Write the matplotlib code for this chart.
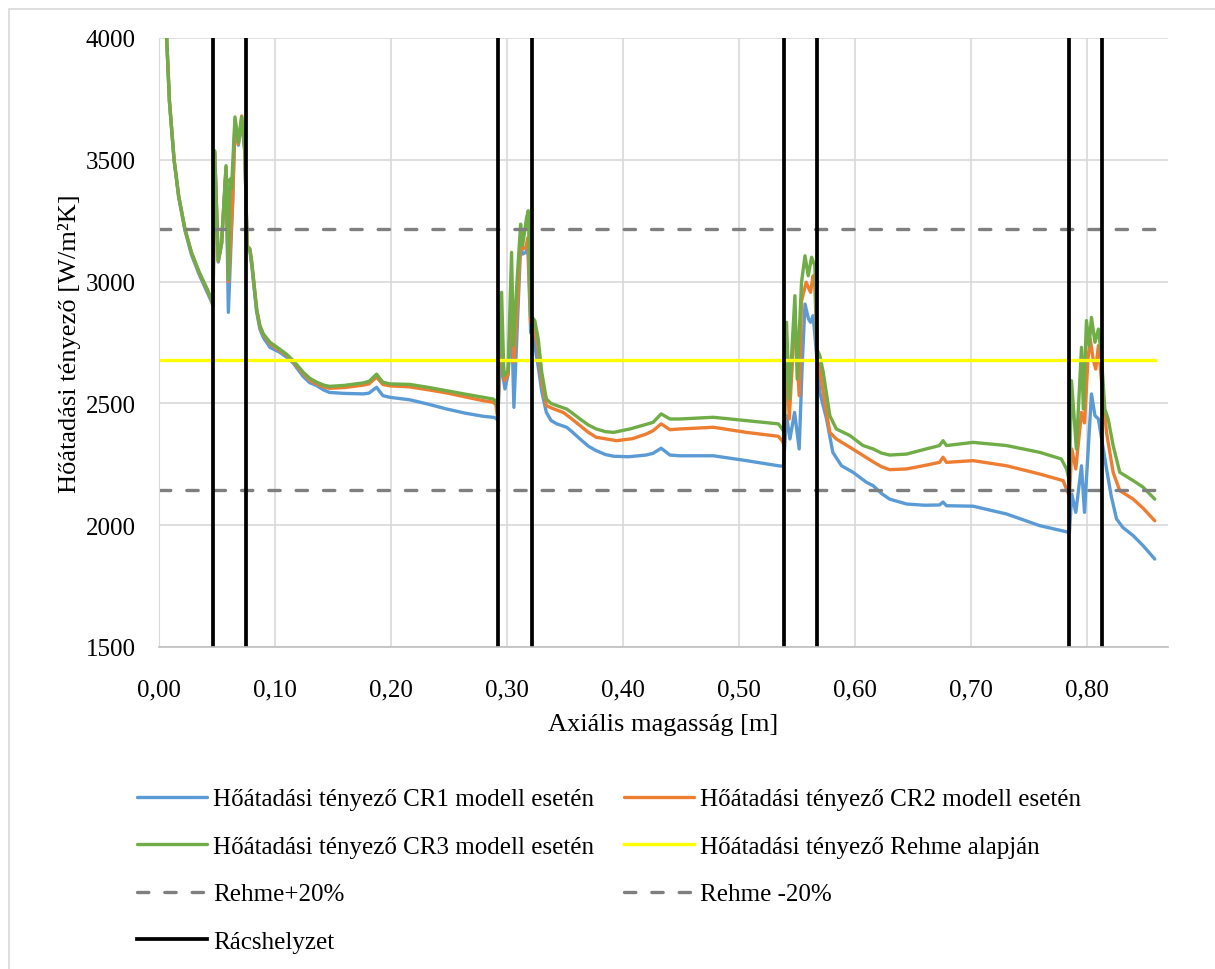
import matplotlib.pyplot as plt
from matplotlib.patches import Rectangle
from matplotlib.ticker import FuncFormatter

plt.rcParams['font.family'] = ['Liberation Serif', 'DejaVu Serif']

# Hőátadási tényező, CR1 modell
x_cr1 = [0.005, 0.0066, 0.009, 0.013, 0.017, 0.0224, 0.028, 0.035, 0.041, 0.0455, 0.0466,
         0.048, 0.0511, 0.054, 0.0578, 0.0598, 0.0635, 0.0655, 0.0684, 0.0713, 0.074, 0.076,
         0.0784, 0.080, 0.0842, 0.087, 0.090, 0.0957, 0.104, 0.110, 0.1158, 0.1244, 0.130,
         0.136, 0.142, 0.147, 0.160, 0.176, 0.181,
         0.1876, 0.193, 0.199, 0.216, 0.232, 0.248, 0.264, 0.2796, 0.288, 0.2905, 0.292,
         0.2945, 0.2983, 0.301, 0.304, 0.306, 0.3098, 0.3118, 0.3135, 0.3164, 0.318, 0.3205,
         0.3227, 0.327, 0.330, 0.334, 0.338, 0.343, 0.3515, 0.357, 0.363, 0.370, 0.377, 0.385,
         0.392, 0.405, 0.420, 0.426, 0.433,
         0.4405, 0.449, 0.478, 0.5066, 0.534, 0.5385,
         0.541, 0.544, 0.548, 0.552, 0.5545, 0.557, 0.560, 0.5618, 0.564, 0.5655, 0.5698,
         0.5756, 0.581, 0.5885, 0.5985, 0.610, 0.6158, 0.623, 0.630, 0.6446, 0.660, 0.673,
         0.676, 0.679, 0.702, 0.7308, 0.7595, 0.7825, 0.785,
         0.787, 0.7905, 0.7954, 0.798, 0.804, 0.807, 0.810, 0.817, 0.821, 0.8256, 0.831,
         0.840, 0.8485, 0.8586]
y_cr1 = [4250, 4000, 3740, 3500, 3345, 3210, 3110, 3025, 2962, 2915, 2900,
         3530, 3080, 3155, 3460, 2874, 3325, 3650, 3560, 3660, 3530, 3140,
         3125, 3065, 2875, 2805, 2770, 2730, 2710, 2690, 2665, 2610, 2585,
         2573, 2555, 2545, 2541, 2539, 2542,
         2566, 2532, 2525, 2515, 2497, 2477, 2460, 2447, 2443, 2440, 2430,
         2680, 2559, 2620, 2850, 2484, 2915, 3150, 3113, 3120, 3150, 2790,
         2778, 2650, 2550, 2463, 2430, 2416, 2402, 2380, 2354, 2325, 2306, 2290,
         2283, 2281, 2288, 2295, 2316,
         2288, 2285, 2285, 2265, 2244, 2242,
         2450, 2354, 2463, 2313, 2650, 2908, 2847, 2833, 2860, 2780, 2545,
         2436, 2299, 2244, 2217, 2176, 2162, 2130, 2107, 2087, 2082, 2083,
         2095, 2080, 2078, 2046, 1998, 1973, 1970,
         2128, 2053, 2244, 2053, 2539, 2450, 2436, 2231, 2121, 2026, 1991,
         1957, 1916, 1861]

# Hőátadási tényező, CR2 modell
x_cr2 = [0.005, 0.0066, 0.009, 0.013, 0.017, 0.0224, 0.028, 0.035, 0.041, 0.0455, 0.0466,
         0.048, 0.0511, 0.054, 0.0578, 0.0598, 0.0635, 0.0655, 0.0684, 0.0713, 0.074, 0.076,
         0.0784, 0.080, 0.0842, 0.087, 0.090, 0.0957, 0.104, 0.110, 0.1158, 0.1244, 0.130,
         0.136, 0.142, 0.147, 0.160, 0.176, 0.181,
         0.1876, 0.193, 0.199, 0.216, 0.232, 0.248, 0.264, 0.2796, 0.288, 0.2905, 0.292,
         0.2945, 0.2983, 0.301, 0.304, 0.306, 0.3098, 0.3118, 0.3135, 0.3164, 0.318, 0.3205,
         0.324, 0.327, 0.330, 0.334, 0.340, 0.3485, 0.355, 0.363, 0.370, 0.377, 0.3946, 0.408,
         0.420, 0.426, 0.433,
         0.4405, 0.449, 0.478, 0.5066, 0.534, 0.5375, 0.539,
         0.5411, 0.5434, 0.5483, 0.552, 0.554, 0.558, 0.5618, 0.564, 0.5655, 0.5675, 0.5698,
         0.5727, 0.5784, 0.584, 0.5957, 0.6158, 0.623, 0.630, 0.6446, 0.660, 0.673, 0.676,
         0.679, 0.702, 0.7308, 0.7595, 0.7796, 0.7825, 0.785,
         0.787, 0.7905, 0.7954, 0.798, 0.801, 0.803, 0.8054, 0.8077, 0.810, 0.8125, 0.817,
         0.8227, 0.8284, 0.840, 0.8485, 0.8586]
y_cr2 = [4250, 4000, 3740, 3500, 3350, 3214, 3118, 3032, 2972, 2922, 2903,
         3535, 3084, 3158, 3470, 3000, 3330, 3660, 3565, 3680, 3540, 3145,
         3132, 3075, 2885, 2815, 2782, 2745, 2718, 2698, 2670, 2622, 2595,
         2580, 2568, 2562, 2565, 2575, 2580,
         2608, 2578, 2572, 2568, 2556, 2543, 2527, 2511, 2505, 2495, 2440,
         2750, 2593, 2620, 2980, 2669, 2970, 3180, 3134, 3141, 3180, 2830,
         2810, 2720, 2590, 2491, 2478, 2463, 2440, 2409, 2382, 2361, 2347, 2355,
         2374, 2388, 2416,
         2392, 2395, 2402, 2381, 2365, 2345, 2330,
         2720, 2436, 2850, 2532, 2920, 2997, 2956, 3024, 2990, 2680, 2640,
         2545, 2381, 2354, 2320, 2260, 2240, 2228, 2231, 2245, 2258, 2279,
         2258, 2265, 2244, 2210, 2183, 2148, 2120,
         2313, 2231, 2463, 2420, 2682, 2764, 2682, 2641, 2737, 2600, 2381,
         2217, 2142, 2107, 2070, 2018]

# Hőátadási tényező, CR3 modell
x_cr3 = [0.005, 0.0066, 0.009, 0.013, 0.017, 0.0224, 0.028, 0.035, 0.041, 0.0455, 0.0466,
         0.048, 0.0511, 0.054, 0.0578, 0.0598, 0.0612, 0.0625, 0.0655, 0.0684, 0.0713, 0.074,
         0.076, 0.0784, 0.080, 0.0842, 0.087, 0.090, 0.0957, 0.104, 0.110, 0.1158, 0.1244,
         0.130, 0.136, 0.142, 0.147, 0.160, 0.176,
         0.181, 0.1876, 0.193, 0.199, 0.216, 0.232, 0.248, 0.264, 0.2796, 0.288, 0.2905, 0.292,
         0.2954, 0.2974, 0.301, 0.304, 0.3055, 0.3083, 0.3118, 0.3135, 0.317, 0.3184, 0.3205,
         0.324, 0.327, 0.330, 0.334, 0.338, 0.343, 0.3515, 0.357, 0.363, 0.370, 0.377, 0.385,
         0.392, 0.406, 0.426, 0.433,
         0.4405, 0.449, 0.478, 0.5066, 0.534, 0.5375, 0.539,
         0.5411, 0.5434, 0.5483, 0.5503, 0.554, 0.557, 0.5598, 0.5627, 0.5655, 0.5675, 0.5698,
         0.5727, 0.5784, 0.584, 0.5957, 0.607, 0.6158, 0.623, 0.630, 0.6446, 0.659, 0.673,
         0.676, 0.679, 0.702, 0.7308, 0.7595, 0.778, 0.7825, 0.785,
         0.7868, 0.791, 0.7954, 0.797, 0.7997, 0.802, 0.804, 0.807, 0.810, 0.8125, 0.8155,
         0.8184, 0.8227, 0.8284, 0.840, 0.8485, 0.8586]
y_cr3 = [4250, 4000, 3740, 3500, 3350, 3216, 3120, 3035, 2975, 2925, 2905,
         3537, 3086, 3161, 3476, 3010, 3421, 3380, 3676, 3572, 3676, 3540,
         3147, 3134, 3080, 2887, 2820, 2785, 2751, 2723, 2702, 2675, 2628,
         2603, 2587, 2575, 2570, 2574, 2584,
         2590, 2620, 2587, 2580, 2578, 2566, 2552, 2538, 2525, 2518, 2510, 2480,
         2956, 2614, 2634, 3120, 2737, 2970, 3236, 3147, 3264, 3291, 2860,
         2840, 2764, 2628, 2518, 2500, 2491, 2477, 2458, 2436, 2412, 2395, 2384,
         2381, 2395, 2422, 2457,
         2436, 2436, 2443, 2429, 2416, 2395, 2380,
         2833, 2518, 2942, 2600, 2997, 3106, 3024, 3100, 3065, 2720, 2696,
         2628, 2450, 2395, 2368, 2327, 2313, 2296, 2288, 2292, 2310, 2327,
         2347, 2327, 2340, 2327, 2299, 2272, 2231, 2180,
         2593, 2313, 2730, 2477, 2840, 2737, 2853, 2751, 2805, 2700, 2477,
         2436, 2327, 2217, 2183, 2156, 2107]

# Rehme-féle hőátadási tényező és a ±20%-os sáv
x_rehme = [0.0, 0.8586]
rehme = 2680
rehme_plus = 3216
rehme_minus = 2144

# rácsok axiális helyzete
racs_x = [0.0466, 0.0750, 0.2920, 0.3216, 0.5390, 0.5670, 0.7850, 0.8130]
y_lim = [1500, 4000]
x_ticks = [0.0, 0.1, 0.2, 0.3, 0.4, 0.5, 0.6, 0.7, 0.8]
y_ticks = [1500, 2000, 2500, 3000, 3500, 4000]

W, H = 1215, 970
fig = plt.figure(figsize=(W / 100, H / 100), dpi=100)
ax = fig.add_axes([159 / W, 1 - 648 / H, (1168 - 159) / W, (648 - 39) / H])

# keret a diagram körül
fig.patches.append(Rectangle((9 / W, -0.05), 1.05, 1 - 10 / H + 0.05, transform=fig.transFigure,
                             fill=False, edgecolor='#D9D9D9', linewidth=1.2))

lw = 2.4
kw = dict(lw=lw, solid_joinstyle='round', solid_capstyle='round')
l1, = ax.plot(x_cr1, y_cr1, color='#5B9BD5', **kw)
l2, = ax.plot(x_cr2, y_cr2, color='#ED7D31', **kw)
l3, = ax.plot(x_cr3, y_cr3, color='#70AD47', **kw)
l4, = ax.plot(x_rehme, [rehme] * 2, color='#FFFF00', lw=lw)
l5, = ax.plot(x_rehme, [rehme_plus] * 2, color='#7F7F7F', lw=lw, dashes=(3.4, 4.8),
              dash_capstyle='round')
l6, = ax.plot(x_rehme, [rehme_minus] * 2, color='#7F7F7F', lw=lw, dashes=(3.4, 4.8),
              dash_capstyle='round')
for xr in racs_x:
    l7, = ax.plot([xr, xr], y_lim, color='black', lw=2.7)

ax.set_xlim(0, 0.87)
ax.set_ylim(*y_lim)
ax.set_xticks(x_ticks)
ax.set_yticks(y_ticks)
ax.xaxis.set_major_formatter(FuncFormatter(lambda v, p: f'{v:.2f}'.replace('.', ',')))
ax.grid(True, color='#D9D9D9', lw=1.2)
ax.set_axisbelow(True)
for s in ['top', 'right']:
    ax.spines[s].set_visible(False)
ax.spines['left'].set_color('#D9D9D9')
ax.spines['bottom'].set_color('#BFBFBF')
ax.spines['bottom'].set_linewidth(1.2)
ax.tick_params(length=0, labelsize=18, colors='black')
ax.tick_params(axis='x', pad=23)
ax.tick_params(axis='y', pad=17)

ax.set_xlabel('Axiális magasság [m]', fontsize=19, labelpad=9)
ax.set_ylabel('Hőátadási tényező [W/m²K]', fontsize=19, labelpad=3)

handles = [l1, l3, l5, l7, l2, l4, l6]
labels = ['Hőátadási tényező CR1 modell esetén', 'Hőátadási tényező CR3 modell esetén',
          'Rehme+20%', 'Rácshelyzet',
          'Hőátadási tényező CR2 modell esetén', 'Hőátadási tényező Rehme alapján',
          'Rehme -20%']
fig.legend(handles, labels, ncol=2, loc='upper left', bbox_to_anchor=(137 / W, 1 - 789 / H),
           frameon=False, fontsize=18, borderpad=0, borderaxespad=0,
           handlelength=2.8, handletextpad=0.24, columnspacing=1.2, labelspacing=1.0)

fig.savefig('out.png', dpi=100)
